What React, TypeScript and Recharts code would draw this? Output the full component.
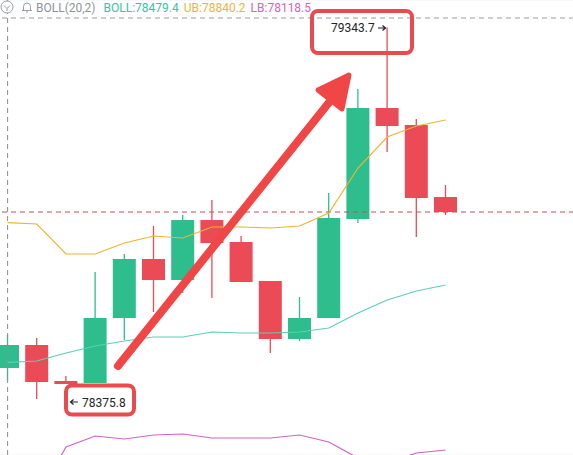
import {
  Bar,
  CartesianGrid,
  ComposedChart,
  Line,
  ReferenceLine,
  XAxis,
  YAxis,
} from "recharts";

// OHLC (16 visible candles)
const opens = [78464.8, 78524.2, 78431.3, 78426.1, 78593.9, 78746.3, 78692.0, 78846.9, 78790.2, 78689.5, 78539.7, 78593.9, 78849.5, 79136.1, 79092.3, 78906.3];
const closes = [78524.2, 78428.7, 78423.5, 78593.9, 78746.3, 78692.0, 78846.9, 78787.6, 78686.9, 78539.7, 78593.9, 78852.1, 79136.1, 79089.7, 78903.8, 78867.6];
const highs = [78550.0, 78542.3, 78444.2, 78712.7, 78759.2, 78831.5, 78859.9, 78898.6, 78805.6, 78689.5, 78648.1, 78916.7, 79185.2, 79343.7, 79107.7, 78937.3];
const lows = [78431.3, 78385.0, 78423.5, 78426.1, 78537.1, 78609.4, 78658.5, 78645.6, 78686.9, 78503.6, 78534.5, 78593.9, 78839.2, 79022.5, 78803.1, 78859.9];

// Bollinger (20,2)
const boll = [78479.4, 78482.9, 78503.6, 78521.6, 78534.5, 78544.9, 78544.9, 78557.8, 78555.2, 78555.2, 78557.8, 78568.1, 78606.8, 78640.4, 78663.6, 78679.1];
const upper = [78840.2, 78836.6, 78759.2, 78759.2, 78787.6, 78805.6, 78800.5, 78828.9, 78828.9, 78826.3, 78831.5, 78865.0, 78981.2, 79061.3, 79089.7, 79105.2];
const lower = [78118.5, 78129.2, 78260.8, 78289.2, 78281.5, 78291.8, 78294.4, 78284.1, 78284.1, 78284.1, 78291.8, 78273.8, 78232.4, 78219.5, 78245.4, 78253.1];

const SLOTS = 20; // 16 candles + empty space on the right
const priceTicks = [78300, 78400, 78500, 78600, 78700, 78800, 78900, 79000, 79100, 79200, 79300];
const gridSlots = [3, 7, 11, 15, 19];
const lastPrice = 78867.6;
const crossPrice = 79368.5;
const Y_MIN = 78240.2;
const Y_MAX = 79415;

const GREEN = "#2ebd8c";
const RED = "#eb4b57";

const data = Array.from({ length: SLOTS }, (_, i) => ({
  i,
  open: opens[i],
  close: closes[i],
  high: highs[i],
  low: lows[i],
  boll: boll[i],
  ub: upper[i],
  lb: lower[i],
}));

function Candle(props: any) {
  const { x, y, width, height, payload } = props;
  if (!payload || payload.open == null) return <g />;
  const top = Math.min(y, y + height);
  const h = Math.abs(height);
  const span = payload.high - payload.low || 1;
  const py = (p: number) => top + ((payload.high - p) / span) * h;
  const up = payload.close >= payload.open;
  const color = up ? GREEN : RED;
  const bTop = py(Math.max(payload.open, payload.close));
  const bBot = py(Math.min(payload.open, payload.close));
  const cx = x + width / 2;
  return (
    <g>
      <line x1={cx} x2={cx} y1={top} y2={top + h} stroke={color} strokeWidth={1.3} />
      <rect x={x} y={bTop} width={width} height={Math.max(1, bBot - bTop)} fill={color} />
    </g>
  );
}

function Overlay() {
  const font = "Roboto, 'Noto Sans', sans-serif";
  return (
    <svg
      width={573}
      height={455}
      style={{ position: "absolute", left: 0, top: 0, pointerEvents: "none" }}
    >
      {/* header */}
      <circle cx={7} cy={7} r={6} fill="#fff" stroke="#9aa0a6" strokeWidth={1} />
      <path d="M4 5.5 L7 8.5 L10 5.5 M7 8.5 V11" fill="none" stroke="#9aa0a6" strokeWidth={1} />
      <path
        d="M22 10.5 H32 M23.5 10.5 V6.5 A3.5 3.5 0 0 1 30.5 6.5 V10.5 M26 12 H28"
        fill="none"
        stroke="#9aa0a6"
        strokeWidth={1}
      />
      <text x={36} y={11.5} fontSize={12} fontFamily={font}>
        <tspan fill="#8d939b">BOLL(20,2)</tspan>
        <tspan dx={8} fill="#38c3a3">BOLL:78479.4</tspan>
        <tspan dx={5} fill="#f0b43a">UB:78840.2</tspan>
        <tspan dx={5} fill="#d562c5">LB:78118.5</tspan>
      </text>

      {/* highest / lowest marker boxes */}
      <rect x={312} y={11} width={100} height={42} rx={6} fill="none" stroke="#e94a4d" strokeWidth={4} />
      <text x={331} y={31.5} fontSize={12} fill="#1e2329" fontFamily={font}>
        79343.7
      </text>
      <path d="M378 28 H385 M382.5 25.5 L385.5 28 L382.5 30.5" fill="none" stroke="#1e2329" strokeWidth={1.2} />
      <rect x={66} y={385.5} width={68} height={29} rx={6} fill="none" stroke="#e94a4d" strokeWidth={4} />
      <path d="M78 402 H71 M73.5 399.5 L70.5 402 L73.5 404.5" fill="none" stroke="#1e2329" strokeWidth={1.2} />
      <text x={82} y={406.5} fontSize={12} fill="#1e2329" fontFamily={font}>
        78375.8
      </text>

      {/* drawn arrow */}
      <line x1={118} y1={366} x2={331} y2={100} stroke="#f04646" strokeWidth={8} strokeLinecap="round" />
      <polygon
        points="349,75 342,109 318,90"
        fill="#f04646"
        stroke="#f04646"
        strokeWidth={5}
        strokeLinejoin="round"
      />
    </svg>
  );
}

export default function App() {
  return (
    <div
      style={{
        position: "fixed",
        left: 0,
        top: 0,
        width: 573,
        height: 455,
        overflow: "hidden",
        background: "#fff",
      }}
    >
      <div style={{ position: "absolute", left: -7, top: 0 }}>
        <ComposedChart
          width={584}
          height={455}
          data={data}
          margin={{ top: 0, right: 0, bottom: 0, left: 0 }}
        >
          <CartesianGrid stroke="#eff2f4" />
          <XAxis
            dataKey="i"
            type="category"
            ticks={gridSlots}
            interval={0}
            height={0}
            tick={false}
            tickLine={false}
            axisLine={false}
          />
          <YAxis
            type="number"
            domain={[Y_MIN, Y_MAX]}
            allowDataOverflow
            ticks={priceTicks}
            width={0}
            tick={false}
            tickLine={false}
            axisLine={false}
          />
          <ReferenceLine y={crossPrice} stroke="#9b9b9b" strokeDasharray="5 4" />
          <ReferenceLine x={0} stroke="#8f8f8f" strokeDasharray="5 4" />
          <ReferenceLine y={lastPrice} stroke="#cc4b53" strokeDasharray="5 4" />
          <Bar
            dataKey={(d: any) => (d.open == null ? null : [d.low, d.high])}
            barSize={23}
            shape={<Candle />}
            isAnimationActive={false}
          />
          <Line dataKey="lb" stroke="#d562c5" strokeWidth={1.2} dot={false} activeDot={false} isAnimationActive={false} />
          <Line dataKey="boll" stroke="#5cd0b6" strokeWidth={1.2} dot={false} activeDot={false} isAnimationActive={false} />
          <Line dataKey="ub" stroke="#f2b233" strokeWidth={1.2} dot={false} activeDot={false} isAnimationActive={false} />
        </ComposedChart>
      </div>
      <Overlay />
    </div>
  );
}
